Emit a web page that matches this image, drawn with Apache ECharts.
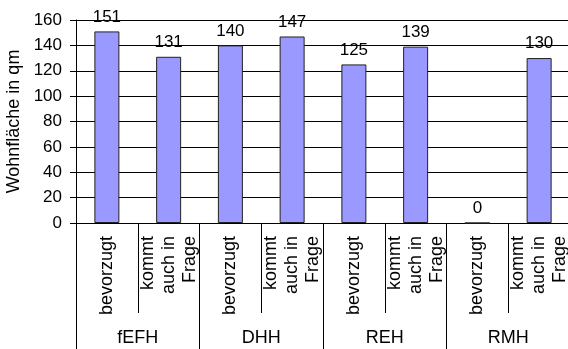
<!DOCTYPE html>
<html>
<head>
<meta charset="utf-8">
<script src="https://cdn.jsdelivr.net/npm/echarts@6/dist/echarts.min.js"></script>
<style>
html,body{margin:0;padding:0;background:#fff;}
#c{width:568px;height:349px;}
</style>
</head>
<body>
<div id="c"></div>
<script>
var categories = ['bevorzugt', 'kommt\nauch in\nFrage', 'bevorzugt', 'kommt\nauch in\nFrage', 'bevorzugt', 'kommt\nauch in\nFrage', 'bevorzugt', 'kommt\nauch in\nFrage'];
var groups = ['fEFH', 'DHH', 'REH', 'RMH'];
var values = [151, 131, 140, 147, 125, 139, 0, 130];
var yTicks = { min: 0, max: 160, interval: 20 };
var yAxisName = 'Wohnfläche in qm';

var font = 'Liberation Sans, Arial, sans-serif';
var chart = echarts.init(document.getElementById('c'), null, { renderer: 'canvas' });
chart.setOption({
  animation: false,
  backgroundColor: '#fff',
  grid: { left: 76, top: 20, width: 494, height: 203, containLabel: false, outerBoundsMode: 'none' },
  xAxis: [
    {
      type: 'category',
      position: 'bottom',
      data: categories,
      axisLine: { show: true, lineStyle: { color: '#000', width: 1 } },
      axisTick: { show: true, interval: 0, length: 90, lineStyle: { color: '#000' } },
      axisLabel: { interval: 0, rotate: 90, margin: 13, color: '#000', fontFamily: font, fontSize: 18, lineHeight: 21 }
    },
    {
      type: 'category',
      position: 'bottom',
      data: groups,
      axisLine: { show: false },
      axisTick: { show: true, interval: 0, length: 127, lineStyle: { color: '#000' } },
      axisLabel: { interval: 0, margin: 106, color: '#000', fontFamily: font, fontSize: 18 }
    }
  ],
  yAxis: {
    type: 'value',
    min: yTicks.min,
    max: yTicks.max,
    interval: yTicks.interval,
    name: yAxisName,
    nameLocation: 'middle',
    nameGap: 51,
    nameTextStyle: { color: '#000', fontFamily: font, fontSize: 18 },
    axisLine: { show: true, lineStyle: { color: '#000', width: 1 } },
    axisTick: { show: true, length: 6, lineStyle: { color: '#000' } },
    axisLabel: { margin: 14, color: '#000', fontFamily: font, fontSize: 17 },
    splitLine: { show: true, lineStyle: { color: '#000', width: 1 } }
  },
  series: [{
    type: 'bar',
    xAxisIndex: 0,
    data: values,
    barWidth: 25,
    itemStyle: { color: '#9999FF', borderColor: '#222', borderWidth: 1 },
    label: { show: true, position: 'top', distance: 6, color: '#000', fontFamily: font, fontSize: 17 }
  }]
});
</script>
</body>
</html>
